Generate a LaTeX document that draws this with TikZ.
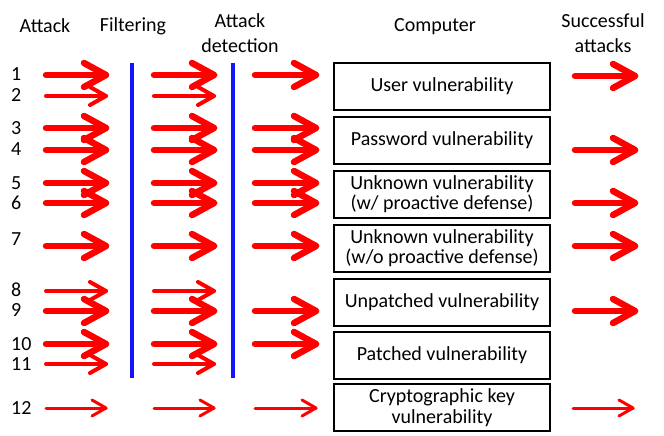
\documentclass[tikz,border=0pt]{standalone}
\usepackage{fontspec}
\setmainfont{Carlito}
\usetikzlibrary{calc}
\begin{document}
\begin{tikzpicture}[x=1pt,y=-1pt,
  hdr/.style={font=\fontsize{20}{24.5}\selectfont, inner sep=0pt, align=center},
  num/.style={font=\fontsize{20}{21}\selectfont, inner sep=0pt, anchor=west},
  vbox/.style={draw=black, line width=2pt, minimum width=216pt, minimum height=47pt, inner sep=0pt, align=center, font=\fontsize{20}{20.5}\selectfont},
  barrier/.style={draw={rgb,255:red,20;green,20;blue,255}, line width=4.5pt},
  arr/.style={draw=red, line cap=round, line join=round}
]
\useasboundingbox (0,0) rectangle (664,436);
\newcommand{\thk}[3]{\draw[arr, line width=6.5pt] (#1,#3) -- (#2,#3);
  \draw[arr, line width=6.5pt] ($(#2,#3)+(-22,-12)$) -- (#2,#3) -- ($(#2,#3)+(-22,12)$);}
\newcommand{\thn}[3]{\draw[arr, line width=4pt] (#1,#3) -- (#2,#3);
  \draw[arr, line width=4pt] ($(#2,#3)+(-16,-9)$) -- (#2,#3) -- ($(#2,#3)+(-16,9)$);}
\newcommand{\thnn}[3]{\draw[arr, line width=3pt] (#1,#3) -- (#2,#3);
  \draw[arr, line width=3pt] ($(#2,#3)+(-14,-8)$) -- (#2,#3) -- ($(#2,#3)+(-14,8)$);}

% headers
\node[hdr] (hA) at (45,26) {Attack};
\node[hdr] (hF) at (133,26) {Filtering};
\node[hdr] (hD) at (240,33) {Attack\\detection};
\node[hdr] (hC) at (435,27) {Computer};
\node[hdr] (hS) at (603,33) {Successful\\attacks};

% numbers
\foreach \n/\y in {1/74,2/95,3/128,4/149,5/183,6/203,7/239,8/290,9/310,10/344,11/364,12/408}
  \node[num] (n\n) at (11,\y) {\n};

% barriers
\draw[barrier] (132,63) -- (132,378);
\draw[barrier] (233,63) -- (233,378);

% boxes
\node[vbox] (b1) at (442,86.5) {User vulnerability};
\node[vbox] (b2) at (442,140) {Password vulnerability};
\node[vbox] (b3) at (442,194) {Unknown vulnerability\\(w/ proactive defense)};
\node[vbox] (b4) at (442,248) {Unknown vulnerability\\(w/o proactive defense)};
\node[vbox] (b5) at (442,302) {Unpatched vulnerability};
\node[vbox] (b6) at (442,355) {Patched vulnerability};
\node[vbox] (b7) at (442,407.5) {Cryptographic key\\vulnerability};

% column 1
\thk{46}{106}{75}
\thn{46}{106}{96}
\thk{46}{106}{128}
\thk{46}{106}{150}
\thk{46}{106}{183}
\thk{46}{106}{203}
\thk{46}{106}{246}
\thn{46}{106}{291}
\thk{46}{106}{311}
\thk{46}{106}{344}
\thn{46}{106}{364}
\thnn{46}{106}{408}
% column 2
\thk{154}{214}{75}
\thn{154}{214}{96}
\thk{154}{214}{128}
\thk{154}{214}{150}
\thk{154}{214}{183}
\thk{154}{214}{203}
\thk{154}{214}{246}
\thn{154}{214}{291}
\thk{154}{214}{311}
\thk{154}{214}{344}
\thn{154}{214}{364}
\thnn{154}{214}{408}
% column 3
\thk{255}{316}{75}
\thk{255}{316}{128}
\thk{255}{316}{150}
\thk{255}{316}{183}
\thk{255}{316}{203}
\thk{255}{316}{246}
\thk{255}{316}{311}
\thk{255}{316}{344}
\thnn{255}{316}{408}
% column 4
\thk{575}{635}{76}
\thk{575}{635}{150}
\thk{575}{635}{203}
\thk{575}{635}{246}
\thk{575}{635}{311}
\thnn{573}{633}{408}
\end{tikzpicture}
\end{document}
